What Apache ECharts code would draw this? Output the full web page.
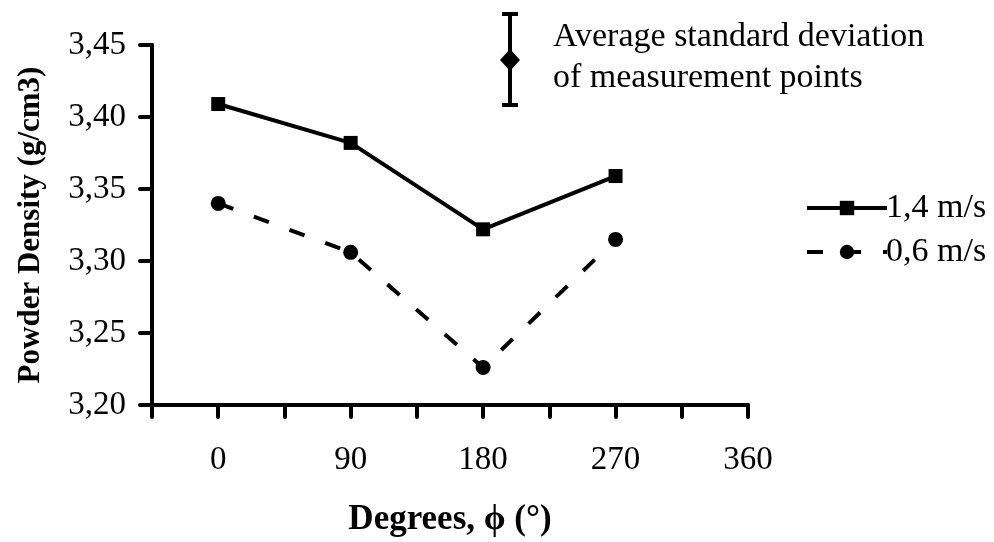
<!DOCTYPE html>
<html>
<head>
<meta charset="utf-8">
<script src="https://cdn.jsdelivr.net/npm/echarts@6/dist/echarts.min.js"></script>
<style>
  html, body { margin: 0; padding: 0; background: #fff; }
  #chart { width: 994px; height: 542px; }
</style>
</head>
<body>
<div id="chart"></div>
<script>
// angles (degrees) and powder density values
var degrees = [0, 90, 180, 270];
var fast = [3.409, 3.382, 3.322, 3.359];   // 1,4 m/s
var slow = [3.340, 3.306, 3.226, 3.315];   // 0,6 m/s
var xLabels = [0, 90, 180, 270, 360];
var seriesNames = ['1,4 m/s', '0,6 m/s'];

var font = 'Liberation Serif, Times New Roman, serif';

function pairs(xs, ys) {
  return xs.map(function (x, i) { return [x, ys[i]]; });
}

var chart = echarts.init(document.getElementById('chart'));

var option = {
  backgroundColor: '#fff',
  animation: false,
  textStyle: { fontFamily: font, color: '#000' },
  grid: { left: 152, right: 246, top: 45, bottom: 135, containLabel: false },
  legend: {
    orient: 'vertical',
    left: 800,
    top: 186,
    itemWidth: 80,
    itemHeight: 18,
    itemGap: 10,
    lineStyle: { width: 4 },
    textStyle: { fontFamily: font, fontSize: 34, lineHeight: 34, color: '#000', padding: [0, 0, 0, -6] },
    data: seriesNames
  },
  xAxis: {
    type: 'value',
    min: -45,
    max: 360,
    interval: 45,
    name: 'Degrees, \u03d5 (\u00b0)',
    nameLocation: 'middle',
    nameGap: 97,
    nameTextStyle: { fontFamily: font, fontSize: 35, fontWeight: 'bold', color: '#000' },
    axisLine: { lineStyle: { color: '#000', width: 4 } },
    axisTick: { show: true, inside: false, length: 12, lineStyle: { color: '#000', width: 4, cap: 'round' } },
    axisLabel: {
      margin: 39,
      fontFamily: font,
      fontSize: 33,
      color: '#000',
      formatter: function (v) {
        return xLabels.indexOf(v) >= 0 ? String(v) : '';
      }
    },
    splitLine: { show: false }
  },
  yAxis: {
    type: 'value',
    min: 3.20,
    max: 3.45,
    interval: 0.05,
    name: 'Powder Density (g/cm3)',
    nameLocation: 'middle',
    nameGap: 106,
    nameRotate: 90,
    nameTextStyle: { fontFamily: font, fontSize: 31, fontWeight: 'bold', color: '#000' },
    axisLine: { show: true, onZero: false, lineStyle: { color: '#000', width: 4 } },
    axisTick: { show: true, inside: false, length: 12, lineStyle: { color: '#000', width: 4, cap: 'round' } },
    axisLabel: {
      margin: 26,
      fontFamily: font,
      fontSize: 33,
      color: '#000',
      formatter: function (v) { return v.toFixed(2).replace('.', ','); }
    },
    splitLine: { show: false }
  },
  graphic: [
    // legend key for the error bar
    { type: 'line', shape: { x1: 510, y1: 14, x2: 510, y2: 105 }, style: { stroke: '#000', lineWidth: 4 } },
    { type: 'line', shape: { x1: 502, y1: 14, x2: 518, y2: 14 }, style: { stroke: '#000', lineWidth: 4 } },
    { type: 'line', shape: { x1: 502, y1: 105, x2: 518, y2: 105 }, style: { stroke: '#000', lineWidth: 4 } },
    { type: 'polygon', shape: { points: [[510, 49], [520, 60], [510, 71], [500, 60]] }, style: { fill: '#000' } },
    { type: 'text', left: 553, top: 20, style: { text: 'Average standard deviation', font: '34px ' + font, fill: '#000' } },
    { type: 'text', left: 553, top: 61, style: { text: 'of measurement points', font: '34px ' + font, fill: '#000' } }
  ],
  series: [
    {
      name: seriesNames[0],
      type: 'line',
      data: pairs(degrees, fast),
      symbol: 'rect',
      symbolSize: 14,
      itemStyle: { color: '#000' },
      lineStyle: { color: '#000', width: 4, type: 'solid' }
    },
    {
      name: seriesNames[1],
      type: 'line',
      data: pairs(degrees, slow),
      symbol: 'circle',
      symbolSize: 15,
      itemStyle: { color: '#000' },
      lineStyle: { color: '#000', width: 4, type: [16, 22] }
    }
  ]
};

chart.setOption(option);
</script>
</body>
</html>
